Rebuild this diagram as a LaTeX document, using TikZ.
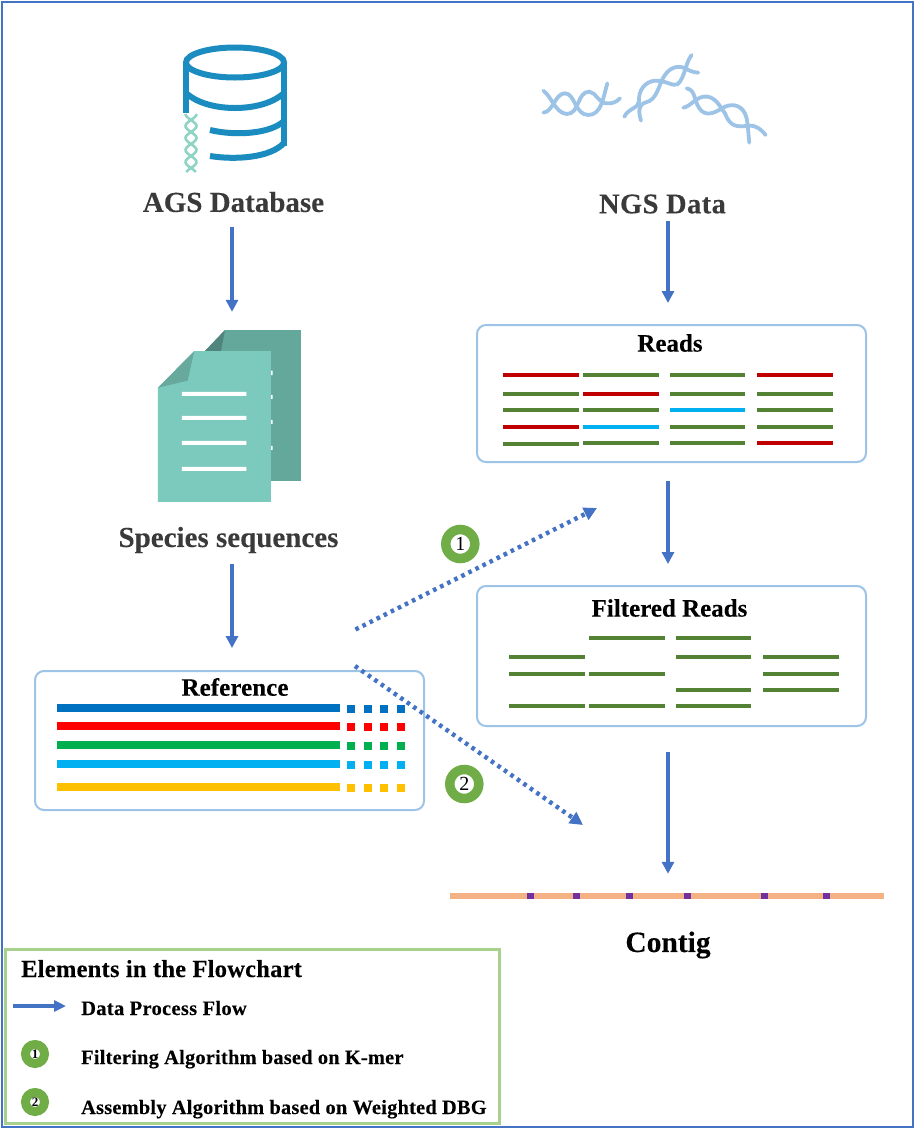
\documentclass[tikz,border=0pt]{standalone}
\usepackage{fontspec}
\setmainfont{Liberation Serif}
\usetikzlibrary{arrows.meta,calc}
\definecolor{flowblue}{HTML}{4472C4}
\definecolor{boxblue}{HTML}{9DC3E6}
\definecolor{dbblue}{HTML}{1A8CBF}
\definecolor{helix}{HTML}{8FD4C4}
\definecolor{rd}{HTML}{C00000}
\definecolor{gn}{HTML}{548235}
\definecolor{bl}{HTML}{00B0F0}
\definecolor{badge}{HTML}{70AD47}
\definecolor{legendgreen}{HTML}{A9D18E}
\definecolor{darktxt}{HTML}{3A3A3A}
\newcommand{\fsz}[2]{\fontsize{#1}{#1}\selectfont\bfseries\addfontfeatures{LetterSpace=#2,FakeBold=0.15}}
\tikzset{
  flow/.style={draw=flowblue,line width=3.6pt,-{Triangle[length=12pt,width=12pt]}},
  dotflow/.style={draw=flowblue,line width=4.4pt,dash pattern=on 3.6pt off 4.3pt,-{Triangle[length=13pt,width=13pt]}},
  panel/.style={draw=boxblue,line width=2pt,rounded corners=9pt,fill=white,inner sep=0pt},
  lbl/.style={inner sep=0pt,font=\bfseries},
  seq/.style={line width=4pt},
  refbar/.style={line width=8pt},
  strand/.style={draw=boxblue,line width=3.8pt,line cap=round},
  dbline/.style={draw=dbblue,line width=6pt},
  bigbadge/.style={circle,fill=white,draw=badge,line width=9.5pt,minimum size=29pt,inner sep=0pt,font=\fontsize{20}{20}\selectfont},
  smallbadge/.style={circle,fill=white,draw=badge,line width=9pt,minimum size=19pt,inner sep=0pt,font=\fontsize{13}{13}\selectfont\bfseries},
}
\begin{document}
\begin{tikzpicture}[x=1pt,y=-1pt]
\useasboundingbox (0,0) rectangle (914,1133);
\fill[white] (0,0) rectangle (914,1133);
\draw[flowblue,line width=2pt] (2,2) rectangle (913,1127);

% database icon
\draw[dbline] (235,62.5) ellipse [x radius=49pt,y radius=15pt];
\draw[dbline] (186,62) -- (186,113);
\draw[dbline] (284,62) -- (284,146);
\draw[dbline] (186,93) .. controls (198,104) and (218,108) .. (235,108) .. controls (252,108) and (272,104) .. (284,93);
\draw[dbline] (210,130) .. controls (235,136) and (270,134) .. (284,121);
\draw[dbline] (210,156) .. controls (235,160) and (270,158) .. (284,143);
% small helix beside the database
\draw[helix,line width=2.6pt] plot[domain=114:172,samples=50] ({191+5.5*cos((\x-114)*15)},\x);
\draw[helix,line width=2.6pt] plot[domain=114:172,samples=50] ({191-5.5*cos((\x-114)*15)},\x);

\node[lbl,text=darktxt] (ags) at (233.5,202) {\fsz{29}{0}AGS Database};

% NGS helices
\begin{scope}[shift={(530,40)},x=.3333pt,y=-.3333pt]
\draw[strand] (40,152) .. controls (65,170) and (75,218) .. (110,222) .. controls (150,222) and (140,155) .. (178,155) .. controls (200,158) and (205,190) .. (230,190) .. controls (245,192) and (260,186) .. (270,175);
\draw[strand] (40,218) .. controls (70,215) and (75,160) .. (105,160) .. controls (135,160) and (135,225) .. (175,225) .. controls (215,225) and (220,170) .. (232,130);
\draw[strand] (283,230) .. controls (295,205) and (325,205) .. (327,185) .. controls (325,150) and (345,125) .. (375,122) .. controls (410,122) and (430,140) .. (442,133) .. controls (465,115) and (465,70) .. (485,45);
\draw[strand] (333,242) .. controls (325,215) and (325,195) .. (345,188) .. controls (385,180) and (385,130) .. (405,105) .. controls (420,82) and (445,75) .. (465,85) .. controls (480,93) and (490,97) .. (505,98);
\draw[strand] (470,145) .. controls (500,150) and (490,190) .. (515,213) .. controls (535,230) and (560,215) .. (585,200) .. controls (610,190) and (640,195) .. (650,235) .. controls (655,260) and (655,285) .. (658,308);
\draw[strand] (460,203) .. controls (480,200) and (495,175) .. (520,170) .. controls (555,165) and (570,200) .. (585,220) .. controls (600,260) and (620,262) .. (655,257) .. controls (680,255) and (695,270) .. (707,285);
\end{scope}
\node[lbl,text=darktxt] (ngs) at (662.5,204) {\fsz{28.5}{1.5}NGS Data};

% document icon
\node[inner sep=0pt,minimum width=143pt,minimum height=172pt] (docs) at (229.5,416) {};
\begin{scope}[shift={(140,320)},x=.3333pt,y=-.3333pt]
\fill[fill={rgb,255:red,100;green,167;blue,155}] (195,93) -- (255,30) -- (483,30) -- (483,483) -- (380,483) -- cycle;
\fill[fill={rgb,255:red,79;green,133;blue,124}] (195,93) -- (255,30) -- (243,93) -- cycle;
\fill[white] (393,152) rectangle (398,165) (393,225) rectangle (398,237) (393,300) rectangle (398,312) (393,378) rectangle (398,390);
\fill[fill={rgb,255:red,124;green,202;blue,189}] (54,203) -- (163,93) -- (393,93) -- (393,546) -- (54,546) -- cycle;
\fill[fill={rgb,255:red,103;green,169;blue,157}] (54,203) -- (163,93) -- (143,182) -- cycle;
\fill[white] (126,216) rectangle (319,228) (126,288) rectangle (319,300) (126,363) rectangle (319,375) (126,441) rectangle (319,453);
\end{scope}
\node[lbl,text=darktxt] (species) at (228.5,540) {\fsz{29}{0}Species sequences};

% Reads
\node[panel,minimum width=389pt,minimum height=137pt] (reads) at (671.5,393.5) {};
\node[lbl] (readst) at (670,343) {\fsz{25}{0}Reads};
\foreach \yy/\ca/\cb/\cc/\cd in {375/rd/gn/gn/rd,394/gn/rd/gn/gn,410/gn/gn/bl/gn,427/rd/bl/gn/gn}{
  \draw[seq,\ca] (503,\yy) -- (579,\yy);
  \draw[seq,\cb] (583,\yy) -- (659,\yy);
  \draw[seq,\cc] (670,\yy) -- (745,\yy);
  \draw[seq,\cd] (757,\yy) -- (833,\yy);
}
\draw[seq,gn] (503,444) -- (579,444);
\draw[seq,gn] (583,443) -- (659,443);
\draw[seq,gn] (670,443) -- (745,443);
\draw[seq,rd] (757,443) -- (833,443);

% Filtered Reads
\node[panel,minimum width=389pt,minimum height=140pt] (filtered) at (671.5,656) {};
\node[lbl] (filteredt) at (669.5,608) {\fsz{25}{0}Filtered Reads};
\foreach \ya/\xa/\xb in {638/589/665,638/676/751,657/509/585,657/676/751,657/763/839,674/509/585,674/589/665,674/763/839,690/676/751,690/763/839,706/509/585,706/589/665,706/676/751}{
  \draw[seq,gn] (\xa,\ya) -- (\xb,\ya);
}

% Reference
\node[panel,minimum width=389pt,minimum height=139pt] (ref) at (229.5,740.5) {};
\node[lbl] (reft) at (235,687) {\fsz{25}{0.3}Reference};
\foreach \yy/\cl in {708/0070C0,726/FF0000,745/00B050,764/00B0F0,787/FFC000}{
  \definecolor{cc}{HTML}{\cl}
  \draw[refbar,cc] (57,\yy) -- (340,\yy);
  \foreach \xx in {351,367.7,384.3,401}{
    \fill[cc] (\xx-4,\yy-3) rectangle (\xx+4,\yy+5);
  }
}

% Contig
\node[inner sep=0pt,fill={rgb,255:red,244;green,177;blue,131},minimum width=434pt,minimum height=6pt] (contig) at (667,896) {};
\foreach \xx in {530.3,576.3,629.3,687.3,764.3,826.3}{
  \fill[fill={rgb,255:red,112;green,48;blue,160}] (\xx-3.5,893) rectangle (\xx+3.5,899);
}
\node[lbl] (contigt) at (668,945) {\fsz{29.5}{0}Contig};

% process arrows
\coordinate (ca) at (232,0);
\coordinate (cb) at (668,0);
\draw[flow,shorten <=15pt,shorten >=18pt] (ags.south -| ca) -- (docs.north -| ca);
\draw[flow,shorten <=11pt,shorten >=22pt] (species.south -| ca) -- (ref.north -| ca);
\draw[flow,shorten <=7pt,shorten >=21pt] (ngs.south -| cb) -- (reads.north -| cb);
\draw[flow,shorten <=18pt,shorten >=21pt] (reads.south -| cb) -- (filtered.north -| cb);
\draw[flow,shorten <=25pt,shorten >=19pt] (filtered.south -| cb) -- (contig.north -| cb);

% dotted arrows
\coordinate (d0) at (355.5,629.5);
\coordinate (d1) at (597,508);
\coordinate (e0) at (355,666);
\coordinate (e1) at (583,825);
\draw[dotflow] (d0) -- (d1);
\draw[dotflow] (e0) -- (e1);
\node[bigbadge] (b1) at (460.3,544) {1};
\node[bigbadge] (b2) at (464.3,784) {2};

% legend
\draw[legendgreen,line width=3pt,fill=white] (5,949.5) rectangle (499,1123);
\node[lbl,anchor=base west] (lt) at (21,977) {\fsz{24.5}{1}Elements in the Flowchart};
\coordinate (l0) at (13,1006);
\coordinate (l1) at (66,1006);
\draw[flow,-{Triangle[length=12pt,width=11pt]}] (l0) -- (l1);
\node[lbl,anchor=base west] (l2) at (81,1015) {\fsz{20.5}{1.5}Data Process Flow};
\node[smallbadge] (lb1) at (35,1054) {1};
\node[lbl,anchor=base west] (l3) at (81,1064) {\fsz{20.3}{1.3}Filtering Algorithm based on K-mer};
\node[smallbadge] (lb2) at (35,1102) {2};
\node[lbl,anchor=base west] (l4) at (81,1114) {\fsz{20.3}{1.3}Assembly Algorithm based on Weighted DBG};
\end{tikzpicture}
\end{document}
